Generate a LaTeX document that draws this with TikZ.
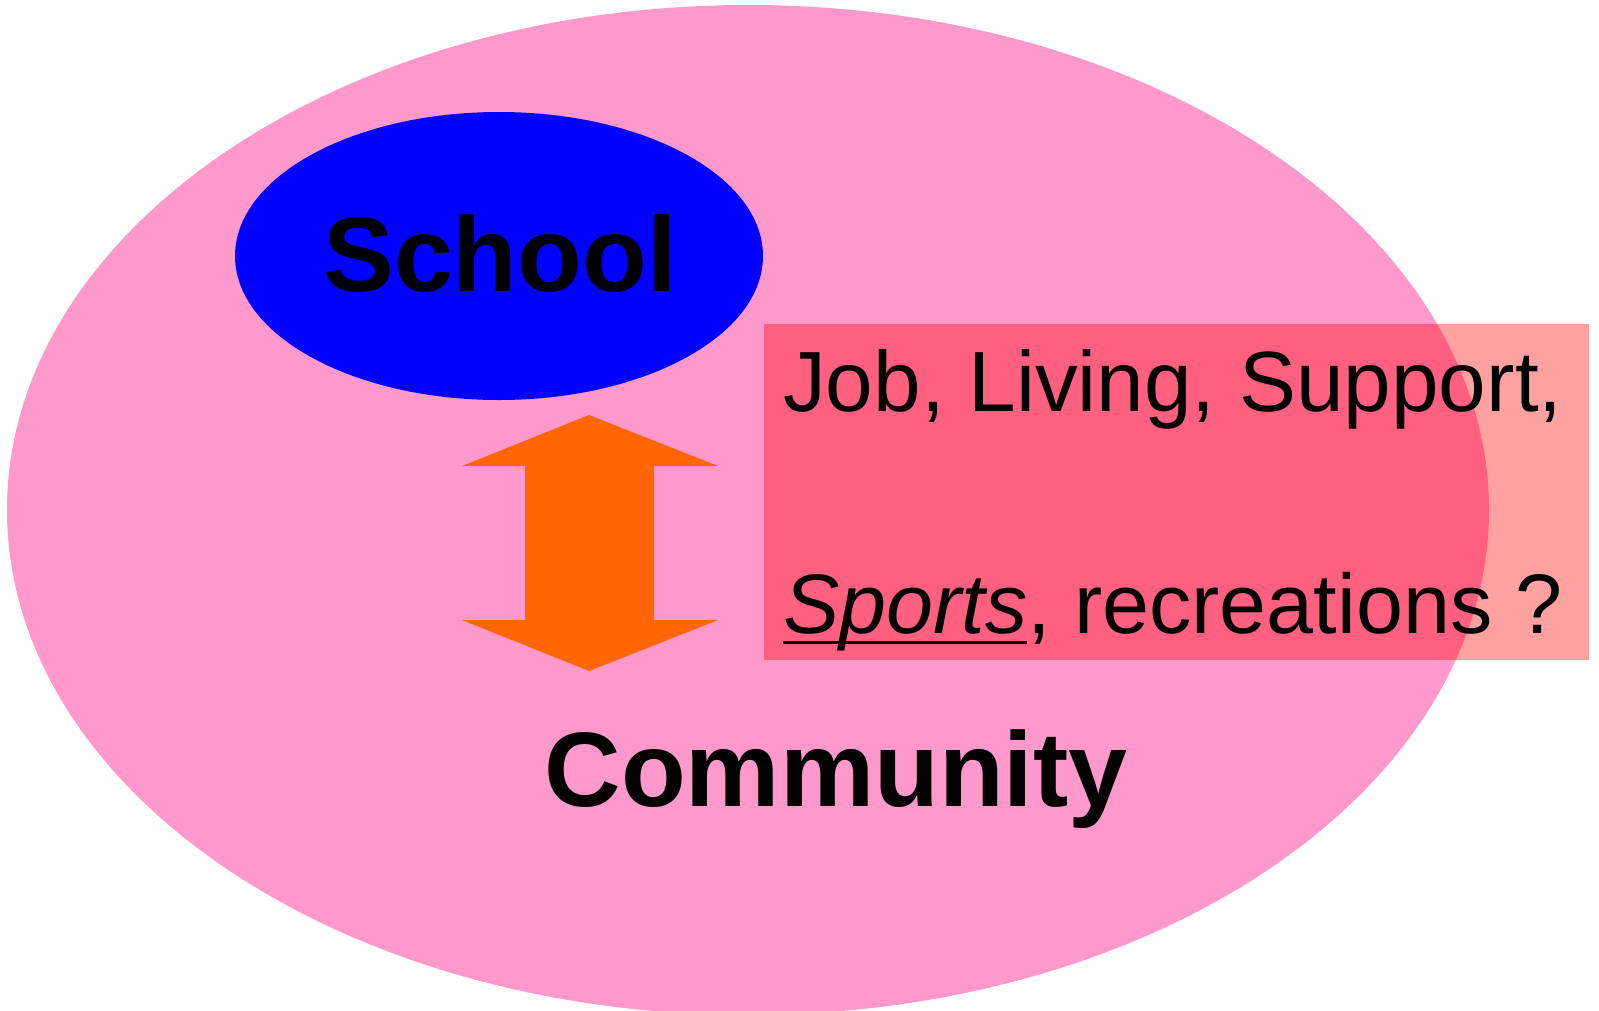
\documentclass[tikz,border=0pt]{standalone}
\usepackage{fontspec}
\setmainfont{Liberation Sans}
\usetikzlibrary{shapes.geometric}
\newcommand\ulfix[1]{\setbox0\hbox{#1}\rlap{\rule[-11pt]{\wd0}{3.5pt}}\box0}
\definecolor{commpink}{RGB}{255,153,204}
\definecolor{schoolblue}{RGB}{0,0,255}
\definecolor{arroworange}{RGB}{255,102,0}
\tikzset{
  blob/.style={ellipse, inner sep=0pt, draw=none},
  bigword/.style={font=\fontsize{106}{120}\selectfont\bfseries, inner sep=0pt, anchor=base},
  lineword/.style={font=\fontsize{85.5}{100}\selectfont, inner sep=0pt, anchor=base west},
}
\begin{document}
\begin{tikzpicture}[x=1pt,y=-1pt]
\useasboundingbox (0,0) rectangle (1599,1010);
\clip (0,0) rectangle (1599,1010);
\node[blob, fill=commpink, minimum width=1482pt, minimum height=1010pt] (community) at (748,510) {};
\node[blob, fill=schoolblue, minimum width=528pt, minimum height=288pt] (school) at (499,256) {};
\node[bigword] (schooltext) at (500,291) {School};
\fill[arroworange] (589,415) -- (718,466) -- (654,466) -- (654,620) -- (718,620) -- (589,671)
  -- (462,620) -- (525,620) -- (525,466) -- (462,466) -- cycle;
\node[bigword] (commtext) at (836,806) {Community};
\fill[red, fill opacity=0.37] (764,324) rectangle (1589,660);
\node[lineword] (line1) at (783,411) {Job, Living, Support,};
\node[lineword, font=\fontsize{84.5}{100}\selectfont] (line2) at (783,633) {\ulfix{\itshape Sports}, recreations ?};
\end{tikzpicture}
\end{document}
